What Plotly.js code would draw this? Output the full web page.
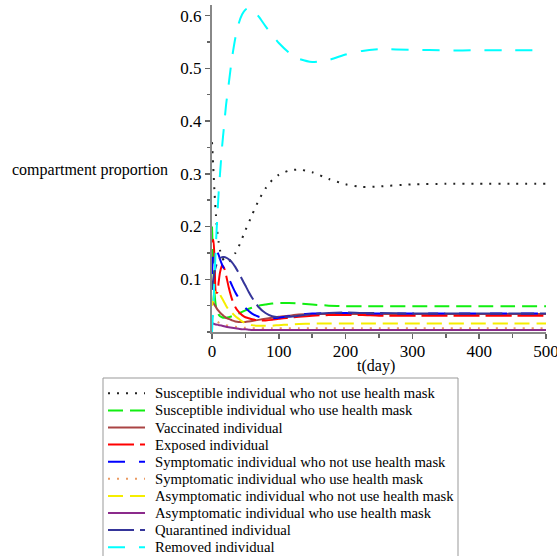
<!DOCTYPE html>
<html>
<head>
<meta charset="utf-8">
<script src="https://cdn.plot.ly/plotly-3.0.1.min.js"></script>
<style>
  html, body { margin: 0; padding: 0; background: #fff; }
  #chart { width: 557px; height: 556px; }
</style>
</head>
<body>
<div id="chart"></div>
<script>
// Time grid (days) shared by every compartment
const tDays = [0, 2, 4, 6, 8, 10, 12, 15, 18, 21, 25, 30, 35, 40, 45, 50, 55, 60, 70, 80, 90, 100, 115, 130, 150, 175, 200, 225, 250, 300, 350, 400, 450, 500];

// Compartment proportions over time
const susceptibleNoMask = [0.36, 0.31, 0.26, 0.22, 0.19, 0.17, 0.155, 0.142, 0.135, 0.132, 0.133, 0.14, 0.15, 0.162, 0.177, 0.193, 0.207, 0.222, 0.25, 0.272, 0.288, 0.298, 0.306, 0.308, 0.303, 0.29, 0.28, 0.275, 0.276, 0.28, 0.281, 0.281, 0.281, 0.281];
const susceptibleMask = [0.2, 0.12, 0.07, 0.048, 0.038, 0.033, 0.03, 0.028, 0.027, 0.027, 0.028, 0.03, 0.032, 0.035, 0.038, 0.041, 0.044, 0.046, 0.05, 0.052, 0.054, 0.055, 0.055, 0.054, 0.052, 0.05, 0.049, 0.049, 0.049, 0.049, 0.049, 0.049, 0.049, 0.049];
const vaccinated = [0.058, 0.055, 0.051, 0.047, 0.043, 0.04, 0.037, 0.033, 0.03, 0.027, 0.025, 0.022, 0.02, 0.019, 0.019, 0.019, 0.02, 0.021, 0.023, 0.025, 0.027, 0.029, 0.031, 0.033, 0.034, 0.034, 0.034, 0.034, 0.034, 0.034, 0.034, 0.034, 0.034, 0.034];
const exposed = [0.17, 0.175, 0.13, 0.075, 0.075, 0.095, 0.113, 0.126, 0.122, 0.108, 0.085, 0.062, 0.047, 0.038, 0.032, 0.028, 0.026, 0.024, 0.022, 0.022, 0.023, 0.025, 0.027, 0.029, 0.031, 0.032, 0.032, 0.032, 0.031, 0.031, 0.031, 0.031, 0.031, 0.031];
const symptomaticNoMask = [0.11, 0.15, 0.158, 0.157, 0.152, 0.146, 0.138, 0.128, 0.12, 0.112, 0.102, 0.088, 0.075, 0.064, 0.054, 0.046, 0.04, 0.035, 0.029, 0.026, 0.026, 0.027, 0.03, 0.033, 0.035, 0.036, 0.036, 0.035, 0.035, 0.035, 0.035, 0.035, 0.035, 0.035];
const symptomaticMask = [0.032, 0.027, 0.024, 0.022, 0.02, 0.018, 0.017, 0.015, 0.014, 0.013, 0.012, 0.011, 0.01, 0.009, 0.0085, 0.008, 0.0075, 0.007, 0.007, 0.007, 0.007, 0.007, 0.007, 0.007, 0.007, 0.007, 0.007, 0.007, 0.007, 0.007, 0.007, 0.007, 0.007, 0.007];
const asymptomaticNoMask = [0.05, 0.065, 0.075, 0.078, 0.077, 0.075, 0.071, 0.064, 0.057, 0.05, 0.042, 0.036, 0.03, 0.025, 0.02, 0.017, 0.015, 0.013, 0.012, 0.012, 0.012, 0.013, 0.014, 0.015, 0.016, 0.016, 0.016, 0.016, 0.016, 0.016, 0.016, 0.016, 0.016, 0.016];
const asymptomaticMask = [0.018, 0.016, 0.015, 0.014, 0.014, 0.013, 0.013, 0.012, 0.011, 0.01, 0.009, 0.008, 0.007, 0.006, 0.005, 0.005, 0.0045, 0.004, 0.004, 0.004, 0.004, 0.004, 0.004, 0.004, 0.004, 0.004, 0.004, 0.004, 0.004, 0.004, 0.004, 0.004, 0.004, 0.004];
const quarantined = [0.08, 0.1, 0.115, 0.125, 0.132, 0.137, 0.14, 0.142, 0.142, 0.141, 0.138, 0.132, 0.123, 0.112, 0.1, 0.088, 0.076, 0.065, 0.047, 0.036, 0.03, 0.028, 0.029, 0.031, 0.034, 0.036, 0.037, 0.036, 0.036, 0.035, 0.035, 0.035, 0.035, 0.035];
const removed = [0.0, 0.05, 0.11, 0.17, 0.22, 0.265, 0.3, 0.35, 0.39, 0.43, 0.47, 0.52, 0.558, 0.585, 0.602, 0.611, 0.614, 0.612, 0.598, 0.58, 0.563, 0.548, 0.53, 0.518, 0.512, 0.516, 0.526, 0.533, 0.536, 0.535, 0.534, 0.534, 0.534, 0.534];

// Legend labels
const seriesNames = [
  'Susceptible individual who not use health mask',
  'Susceptible individual who use health mask',
  'Vaccinated individual',
  'Exposed individual',
  'Symptomatic individual who not use health mask',
  'Symptomatic individual who use health mask',
  'Asymptomatic individual who not use health mask',
  'Asymptomatic individual who use health mask',
  'Quarantined individual',
  'Removed individual'
];
const seriesValues = [susceptibleNoMask, susceptibleMask, vaccinated, exposed, symptomaticNoMask,
                      symptomaticMask, asymptomaticNoMask, asymptomaticMask, quarantined, removed];

// Tick labels
const xTicks = [0, 100, 200, 300, 400, 500];
const yTicks = [0.1, 0.2, 0.3, 0.4, 0.5, 0.6];

// Line styles
const DOT = '2px,7px', DASH = '15px,7px', LONGDASH = '26px,6px', SPACEDASH = '17px,14px';
const styles = [
  { color: '#222222', dash: DOT },
  { color: '#11ee11', dash: DASH },
  { color: '#aa4444', dash: 'solid' },
  { color: '#ff0000', dash: LONGDASH },
  { color: '#0000ff', dash: SPACEDASH },
  { color: '#eb9a62', dash: DOT },
  { color: '#f5ee00', dash: DASH },
  { color: '#8b2a8b', dash: 'solid' },
  { color: '#35359a', dash: LONGDASH },
  { color: '#00ffff', dash: SPACEDASH }
];

const W = 557, H = 556;
const M = { l: 212, r: 11, t: 5, b: 224 };
const plotW = W - M.l - M.r, plotH = H - M.t - M.b;
// pixel -> paper coordinate helpers for the layout decorations
const px2x = px => (px - M.l) / plotW;
const px2y = py => (H - M.b - py) / plotH;

const serif = 'Liberation Serif';

const traces = seriesValues.map((vals, i) => ({
  type: 'scatter',
  mode: 'lines',
  x: tDays,
  y: vals,
  name: seriesNames[i],
  showlegend: false,
  line: { color: styles[i].color, dash: styles[i].dash, width: 2, shape: 'spline', smoothing: 0.6 },
  hoverinfo: 'skip'
}));

// Hand-built legend box below the plot
const legendTop = 378, legendLeft = 103, legendRight = 458;
const rowY0 = 393.3, rowStep = 17.1;
const shapes = [{
  type: 'rect', xref: 'paper', yref: 'paper',
  x0: px2x(legendLeft), x1: px2x(legendRight), y0: px2y(legendTop), y1: px2y(H + 20),
  line: { color: '#999999', width: 1 }, fillcolor: 'rgba(0,0,0,0)', layer: 'above'
}];
const annotations = [];
seriesNames.forEach((name, i) => {
  const ry = rowY0 + rowStep * i;
  shapes.push({
    type: 'line', xref: 'paper', yref: 'paper',
    x0: px2x(108), x1: px2x(145), y0: px2y(ry), y1: px2y(ry),
    line: { color: styles[i].color, dash: styles[i].dash, width: 2 }
  });
  annotations.push({
    xref: 'paper', yref: 'paper', x: px2x(153), y: px2y(ry),
    xanchor: 'left', yanchor: 'middle', showarrow: false,
    text: name, font: { family: serif, size: 14.7, color: '#000' }
  });
});

// Axis captions
annotations.push({
  xref: 'paper', yref: 'paper', x: px2x(10), y: px2y(170),
  xanchor: 'left', yanchor: 'middle', showarrow: false,
  text: 'compartment proportion', font: { family: serif, size: 16, color: '#000' }
});
annotations.push({
  xref: 'paper', yref: 'paper', x: px2x(376), y: px2y(366),
  xanchor: 'center', yanchor: 'middle', showarrow: false,
  text: 't(day)', font: { family: serif, size: 16, color: '#000' }
});

const layout = {
  width: W, height: H,
  margin: { l: M.l, r: M.r, t: M.t, b: M.b, autoexpand: false },
  paper_bgcolor: '#fff', plot_bgcolor: '#fff',
  showlegend: false,
  font: { family: serif, size: 16, color: '#000' },
  xaxis: {
    range: [0, 500], tickvals: xTicks, ticktext: xTicks.map(String),
    showgrid: false, zeroline: false, showline: true, linecolor: '#888', linewidth: 2,
    ticks: 'outside', ticklen: 5, tickcolor: '#666', tickwidth: 1.5,
    minor: { dtick: 50, ticks: 'outside', ticklen: 4, tickcolor: '#666', tickwidth: 1.5 },
    tickfont: { family: serif, size: 17, color: '#000' },
    ticklabeloverflow: 'allow', ticklabelstandoff: -2
  },
  yaxis: {
    range: [0, 0.62], tickvals: yTicks, ticktext: yTicks.map(v => v.toFixed(1)),
    showgrid: false, zeroline: false, showline: true, linecolor: '#888', linewidth: 2,
    ticks: 'outside', ticklen: 5, tickcolor: '#666', tickwidth: 1.5,
    minor: { dtick: 0.05, ticks: 'outside', ticklen: 3, tickcolor: '#666', tickwidth: 1.5 },
    tickfont: { family: serif, size: 17, color: '#000' }
  },
  shapes: shapes,
  annotations: annotations
};

Plotly.newPlot('chart', traces, layout, { displayModeBar: false, staticPlot: true });
</script>
</body>
</html>
